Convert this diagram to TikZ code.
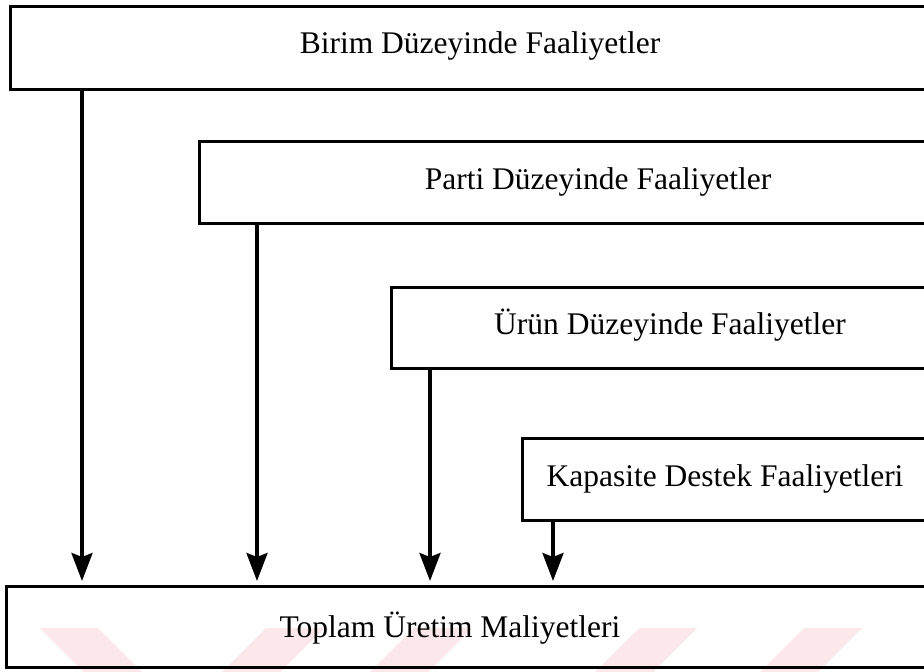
\documentclass[tikz,border=0pt]{standalone}
\usepackage{fontspec}
\setmainfont{Liberation Serif}
\usetikzlibrary{arrows.meta}
\definecolor{wmpink}{RGB}{252,232,234}
\tikzset{
  box/.style={draw=black, line width=3.4pt, fill=none, inner sep=0pt, anchor=north west},
  lbl/.style={font=\fontsize{31.5}{33}\selectfont, inner sep=0pt},
  arr/.style={line width=3.4pt, -{Stealth[length=28pt,width=21pt,inset=4pt]}, shorten >=4pt},
  wm/.style={fill=wmpink, draw=none}
}
\begin{document}
\begin{tikzpicture}[x=1pt,y=-1pt]
\useasboundingbox (0,0) rectangle (924,672);
\clip (0,0) rectangle (924,672);
\fill[white] (0,0) rectangle (924,672);
% watermark stripes
\fill[wm] (40,628) -- (98,628) -- (142,672) -- (84,672) -- cycle;
\fill[wm] (222,672) -- (280,672) -- (324,628) -- (266,628) -- cycle;
\fill[wm] (370,672) -- (428,672) -- (472,628) -- (414,628) -- cycle;
\fill[wm] (595,672) -- (653,672) -- (697,628) -- (639,628) -- cycle;
\fill[wm] (760,672) -- (818,672) -- (862,628) -- (804,628) -- cycle;
% boxes
\node[box, minimum width=940pt, minimum height=83pt] (b1) at (9,5) {};
\node[box, minimum width=760pt, minimum height=82pt] (b2) at (198,140) {};
\node[box, minimum width=560pt, minimum height=81pt] (b3) at (390,286) {};
\node[box, minimum width=430pt, minimum height=82pt] (b4) at (521,437) {};
\node[box, minimum width=940pt, minimum height=81pt] (b5) at (5,585) {};
% labels
\node[lbl] (t1) at (480,46) {Birim Düzeyinde Faaliyetler};
\node[lbl] (t2) at (598,182) {Parti Düzeyinde Faaliyetler};
\node[lbl] (t3) at (670,325) {Ürün Düzeyinde Faaliyetler};
\node[lbl] (t4) at (725,479) {Kapasite Destek Faaliyetleri};
\node[lbl] (t5) at (450,628) {Toplam Üretim Maliyetleri};
% arrows
\coordinate (x1) at (82,0);
\coordinate (x2) at (257,0);
\coordinate (x3) at (430,0);
\coordinate (x4) at (553,0);
\draw[arr] (x1 |- b1.south) -- (x1 |- b5.north);
\draw[arr] (x2 |- b2.south) -- (x2 |- b5.north);
\draw[arr] (x3 |- b3.south) -- (x3 |- b5.north);
\draw[arr] (x4 |- b4.south) -- (x4 |- b5.north);
\end{tikzpicture}
\end{document}
